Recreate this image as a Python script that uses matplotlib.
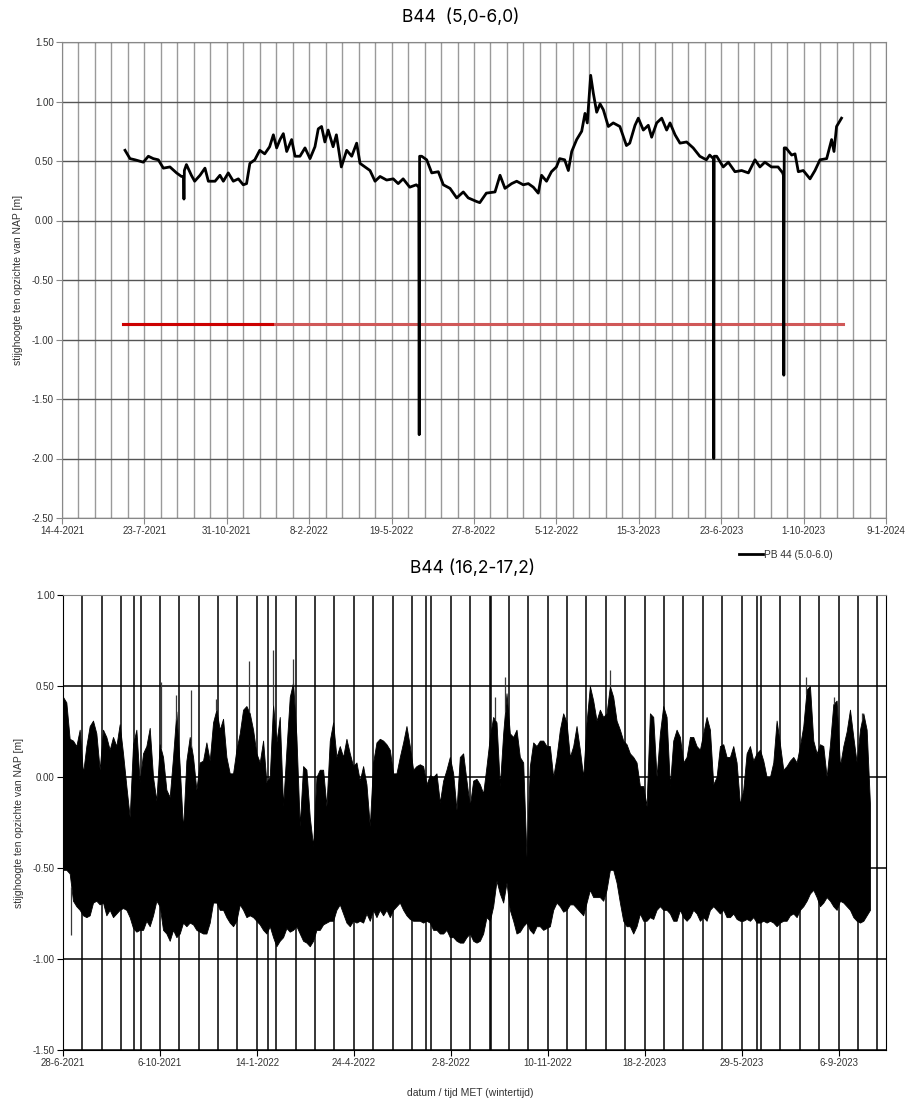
import numpy as np
import pandas as pd
import matplotlib
matplotlib.use('Agg')
import matplotlib.pyplot as plt
import matplotlib.dates as mdates
from matplotlib.ticker import FuncFormatter, FixedLocator, MultipleLocator

plt.rcParams['font.family'] = ['Liberation Sans', 'DejaVu Sans']

# ---- top chart: PB 44 (5.0-6.0), x = days after 14-4-2021 ----
top_start = pd.Timestamp('2021-04-14')
top_days = [76.5, 82.5, 88.6, 98.7, 104.8, 110.8, 116.9, 123, 131, 139, 145, 147.5, 148, 148.5,
            151, 157, 161, 167.5, 173.5, 177.6, 185.7, 191.7, 195.8, 201.8, 207.9, 214, 220, 224,
            228, 234, 240, 246, 252, 256.5, 260.5, 264.6, 268.6, 272.7, 278.7, 282.8, 288.8, 294.9,
            301, 307, 311, 315, 319, 323, 329, 333, 339, 345.5, 351.6, 357.6, 361.7, 367.7, 373.8,
            379.9, 386, 394, 402, 408, 414, 422, 430, 433, 433.5, 434, 436.5, 442.6, 448.7, 456.7,
            462.8, 470.9, 479, 487, 493, 503, 507, 515, 525.5, 531.6, 537.6, 545.7, 551.8, 559.8,
            565.9, 572, 578, 582, 588, 594, 600, 604, 610, 614.5, 618.6, 624.6, 630.7, 634.7, 637.5,
            641.6, 644.8, 648.9, 653, 657, 663, 669, 677, 685, 689, 695.4, 699.4, 705.5, 711.5,
            715.6, 721.7, 727.8, 733.8, 737.9, 744, 750, 758, 766, 774, 782, 786, 790.5, 791, 791.5,
            794.5, 802.5, 808.6, 816.7, 824.8, 833, 841, 847, 853, 861, 869, 874.6, 875.5, 876, 876.5,
            878.6, 885.5, 889.6, 893.6, 899.6, 907.8, 913.8, 919.9, 928, 934, 936.9, 940, 946]
top_vals = [0.59, 0.52, 0.51, 0.49, 0.54, 0.52, 0.51, 0.44, 0.45, 0.40, 0.37, 0.37, 0.18, 0.42,
            0.47, 0.38, 0.33, 0.38, 0.44, 0.33, 0.33, 0.38, 0.33, 0.40, 0.33, 0.35, 0.30, 0.31,
            0.48, 0.51, 0.59, 0.56, 0.62, 0.72, 0.61, 0.68, 0.73, 0.58, 0.68, 0.54, 0.54, 0.61,
            0.52, 0.62, 0.77, 0.79, 0.66, 0.76, 0.62, 0.72, 0.45, 0.59, 0.54, 0.65, 0.48, 0.45, 0.42,
            0.33, 0.37, 0.34, 0.35, 0.31, 0.35, 0.28, 0.30, 0.28, -1.80, 0.54, 0.54, 0.51, 0.40, 0.41,
            0.30, 0.27, 0.19, 0.24, 0.19, 0.16, 0.15, 0.23, 0.24, 0.38, 0.27, 0.31, 0.33, 0.30,
            0.31, 0.28, 0.23, 0.38, 0.33, 0.41, 0.45, 0.52, 0.51, 0.42, 0.58, 0.68, 0.75, 0.90, 0.82,
            1.22, 1.07, 0.91, 0.98, 0.93, 0.79, 0.82, 0.79, 0.63, 0.65, 0.80, 0.86, 0.76, 0.80,
            0.70, 0.82, 0.86, 0.76, 0.82, 0.72, 0.65, 0.66, 0.61, 0.54, 0.51, 0.55, 0.52, -2.00, 0.54,
            0.54, 0.45, 0.49, 0.41, 0.42, 0.40, 0.51, 0.45, 0.49, 0.45, 0.45, 0.40, 0.38, -1.30, 0.61,
            0.61, 0.55, 0.56, 0.41, 0.42, 0.35, 0.42, 0.51, 0.52, 0.68, 0.58, 0.79, 0.86]
ref_days = [74, 948]
ref_dark_days = [74, 255]
ref_level = -0.87

# ---- bottom chart: B44 (16,2-17,2), x = days after 28-6-2021 ----
bot_start = pd.Timestamp('2021-06-28')
env_step = 3.44  # days between envelope readings
env_upper = [
    0.44, 0.41, 0.21, 0.20, 0.17, 0.26, 0.02, 0.17, 0.28, 0.31, 0.24, 0.04, 0.26, 0.22, 0.15, 0.22,
    0.17, 0.29, 0.13, -0.05, -0.22, 0.18, 0.26, -0.03, 0.13, 0.17, 0.27, 0.00, -0.13, 0.18, 0.11,
    -0.07, -0.11, 0.11, 0.36, 0.06, -0.29, 0.09, 0.22, 0.11, -0.07, 0.08, 0.09, 0.19, 0.09, 0.30,
    0.37, 0.26, 0.32, 0.11, 0.02, 0.02, 0.15, 0.24, 0.37, 0.39, 0.35, 0.26, 0.13, 0.08, 0.20, -0.03,
    0.00, 0.40, 0.19, 0.33, -0.16, 0.15, 0.44, 0.52, 0.22, -0.27, 0.06, 0.04, -0.22, -0.38, 0.00,
    0.04, 0.04, -0.16, 0.20, 0.30, 0.11, 0.17, 0.11, 0.21, 0.13, 0.06, 0.08, -0.02, 0.06, -0.04,
    -0.27, 0.08, 0.19, 0.21, 0.20, 0.18, 0.15, 0.02, 0.02, 0.11, 0.19, 0.28, 0.17, 0.04, 0.06, 0.07,
    0.06, -0.04, 0.01, 0.00, 0.02, -0.14, -0.02, 0.04, 0.11, 0.02, -0.18, 0.11, 0.13, -0.02, -0.16,
    -0.02, -0.01,
    -0.04, -0.09, 0.06, 0.22, 0.33, 0.30, -0.05, 0.24, 0.46, 0.24, 0.22, 0.26, 0.11, 0.08, -0.44,
    0.06, 0.19, 0.17, 0.20, 0.20, 0.17, 0.17, 0.00, 0.11, 0.26, 0.35, 0.30, 0.11, 0.17, 0.28, 0.15,
    0.00, 0.30, 0.50, 0.42, 0.31, 0.37, 0.33, 0.35, 0.50, 0.44, 0.31, 0.26, 0.20, 0.18, 0.13, 0.11,
    0.08, -0.05, -0.05, -0.16, 0.35, 0.33, 0.00, 0.24, 0.39, 0.33, -0.05, 0.20, 0.26, 0.22, 0.08,
    0.11, 0.22, 0.22, 0.17, 0.15, 0.24, 0.33, 0.26, -0.04, 0.00, 0.17, 0.18, 0.11, 0.11, 0.17, 0.08,
    -0.15, -0.07, 0.13, 0.17, 0.09, 0.13, 0.15, 0.09, 0.00, 0.00, 0.08, 0.31, 0.18, 0.04, 0.06, 0.09,
    0.11, 0.08, 0.17, 0.28, 0.48, 0.50, 0.20, 0.13, 0.18, 0.17, 0.00, 0.18, 0.40, 0.42, 0.06, 0.17,
    0.25, 0.37, 0.22, 0.08, 0.26, 0.35, 0.26, -0.15]
env_lower = [
    -0.51, -0.51, -0.53, -0.68, -0.71, -0.73, -0.76, -0.77, -0.76, -0.69, -0.68, -0.70, -0.69, -0.76,
    -0.73, -0.77, -0.75, -0.73, -0.72, -0.73, -0.77, -0.83, -0.85, -0.84, -0.84, -0.79, -0.82, -0.76,
    -0.68, -0.71, -0.84, -0.86, -0.90, -0.84, -0.88, -0.86, -0.80, -0.82, -0.80, -0.81, -0.84, -0.85,
    -0.86, -0.86, -0.80, -0.69, -0.69, -0.73, -0.73, -0.77, -0.80, -0.82, -0.79, -0.70, -0.73, -0.77,
    -0.76, -0.77, -0.79, -0.81, -0.84, -0.86, -0.82, -0.88, -0.93, -0.90, -0.88, -0.83, -0.85, -0.84,
    -0.82, -0.86, -0.90, -0.91, -0.93, -0.90, -0.84, -0.84, -0.81, -0.80, -0.79, -0.79, -0.73, -0.70,
    -0.75, -0.80, -0.82, -0.79, -0.80, -0.79, -0.80, -0.75, -0.79, -0.73, -0.77, -0.73, -0.76, -0.73,
    -0.77, -0.73, -0.71, -0.69, -0.73, -0.76, -0.78, -0.79, -0.79, -0.79, -0.80, -0.79, -0.80, -0.84,
    -0.84, -0.86, -0.86, -0.84, -0.88, -0.88, -0.90, -0.91, -0.91, -0.88, -0.86, -0.90, -0.91,
    -0.90, -0.86, -0.77, -0.79, -0.71, -0.57, -0.64, -0.69, -0.58, -0.73, -0.79, -0.86, -0.85, -0.82,
    -0.80, -0.84, -0.86, -0.82, -0.82, -0.84, -0.83, -0.82, -0.73, -0.69, -0.71, -0.74, -0.73, -0.70,
    -0.70, -0.72, -0.74, -0.76, -0.69, -0.62, -0.66, -0.66, -0.66, -0.68, -0.62, -0.51, -0.51, -0.58,
    -0.69, -0.79, -0.82, -0.82, -0.86, -0.82, -0.75, -0.79, -0.79, -0.77, -0.78, -0.73, -0.71, -0.73,
    -0.73, -0.75, -0.79, -0.79, -0.73, -0.77, -0.79, -0.77, -0.73, -0.75, -0.79, -0.77, -0.79, -0.73,
    -0.71, -0.73, -0.75, -0.73, -0.77, -0.77, -0.75, -0.78, -0.79, -0.79, -0.78, -0.79, -0.77, -0.80,
    -0.80, -0.79, -0.80, -0.79, -0.80, -0.82, -0.80, -0.79, -0.79, -0.76, -0.75, -0.77, -0.73, -0.71,
    -0.68, -0.64, -0.62, -0.66, -0.71, -0.69, -0.66, -0.68, -0.71, -0.73, -0.68, -0.69, -0.71, -0.73,
    -0.77, -0.79, -0.80, -0.79, -0.76, -0.73]
peak_days = [100.9, 116.3, 132.5, 158.3, 192.0, 216.8, 237.5, 445.6, 455.9, 564.3, 766.7, 794.9, 824.1]
peak_vals = [0.52, 0.45, 0.48, 0.43, 0.64, 0.70, 0.65, 0.44, 0.55, 0.59, 0.55, 0.44, 0.35]
dip_days = [8.6]
dip_vals = [-0.87]
glitch_days = [73, 211, 374, 442, 716]


def dmy(x, pos=None):
    d = mdates.num2date(x)
    return f"{d.day}-{d.month}-{d.year}"


def to_dates(start, days):
    return (start + pd.to_timedelta(np.asarray(days, dtype=float), unit='D')).to_pydatetime()


fig = plt.figure(figsize=(9.06, 11.03), dpi=100)
tick_col = '#333333'

# ---------- top ----------
ax1 = fig.add_axes([62 / 906, 1 - 518 / 1103, 824 / 906, 476 / 1103])
t0, t1 = pd.Timestamp('2021-04-14'), pd.Timestamp('2024-01-09')
ax1.set_xlim(t0, t1)
ax1.set_ylim(-2.5, 1.5)
ax1.xaxis.set_major_locator(FixedLocator(mdates.date2num(pd.date_range(t0, t1, freq='100D').to_pydatetime())))
ax1.xaxis.set_minor_locator(FixedLocator(mdates.date2num(pd.date_range(t0, t1, freq='20D').to_pydatetime())))
ax1.xaxis.set_major_formatter(FuncFormatter(dmy))
ax1.yaxis.set_major_locator(MultipleLocator(0.5))
ax1.yaxis.set_major_formatter(FuncFormatter(lambda v, p: f"{v:.2f}"))
ax1.grid(True, which='both', axis='x', color='#9a9a9a', lw=1.0)
ax1.grid(True, which='major', axis='y', color='#555555', lw=1.0)
ax1.set_axisbelow(True)
ax1.tick_params(which='major', length=4, width=0.8, color='#888888', labelsize=7, labelcolor=tick_col, pad=2)
ax1.tick_params(which='minor', length=0)
for s in ax1.spines.values():
    s.set_color('#888888')

ax1.plot(to_dates(top_start, ref_days), [ref_level] * 2, color='#d05858', lw=2.2)
ax1.plot(to_dates(top_start, ref_dark_days), [ref_level] * 2, color='#cc0000', lw=2.2)
ax1.plot(to_dates(top_start, top_days), top_vals, color='black', lw=2.0, label='PB 44 (5.0-6.0)')
ax1.set_ylabel('stijghoogte ten opzichte van NAP [m]', fontsize=7.5, color=tick_col, labelpad=6)
fig.text(0.508, 1 - 17 / 1103, 'B44  (5,0-6,0)', ha='center', va='center', fontsize=12.5, family='Inter')
fig.legend(handles=ax1.get_lines()[2:], loc='center left', bbox_to_anchor=(730 / 906, 1 - 555 / 1103),
           frameon=False, fontsize=7.3, handlelength=2.4, handletextpad=0.1, labelcolor=tick_col)

# ---------- bottom ----------
ax2 = fig.add_axes([63 / 906, 1 - 1050 / 1103, 823 / 906, 455 / 1103])
b0 = pd.Timestamp('2021-06-28')
b1 = b0 + pd.Timedelta(days=849)
ax2.set_xlim(b0, b1)
ax2.set_ylim(-1.5, 1.0)
ax2.xaxis.set_major_locator(FixedLocator(mdates.date2num(pd.date_range(b0, b1, freq='100D').to_pydatetime())))
ax2.xaxis.set_minor_locator(FixedLocator(mdates.date2num(pd.date_range(b0, b1, freq='20D').to_pydatetime())))
ax2.xaxis.set_major_formatter(FuncFormatter(dmy))
ax2.yaxis.set_major_locator(MultipleLocator(0.5))
ax2.yaxis.set_major_formatter(FuncFormatter(lambda v, p: f"{v:.2f}"))
ax2.grid(True, which='both', axis='x', color='black', lw=1.1)
ax2.grid(True, which='major', axis='y', color='black', lw=1.1)
ax2.set_axisbelow(True)
ax2.tick_params(which='major', length=4, width=0.8, labelsize=7, labelcolor=tick_col, pad=2)
ax2.tick_params(which='minor', length=0)
ax2.spines['top'].set_color('#888888')

env_days = np.arange(len(env_upper)) * env_step
env_dates = to_dates(bot_start, env_days)
ax2.fill_between(env_dates, env_lower, env_upper, color='black', lw=0.6, edgecolor='black')
# narrow peaks rising above / dropping below the envelope
ax2.vlines(to_dates(bot_start, peak_days), np.interp(peak_days, env_days, env_upper), peak_vals,
           color='#3a3a3a', lw=0.9)
ax2.vlines(to_dates(bot_start, dip_days), np.interp(dip_days, env_days, env_lower), dip_vals,
           color='#3a3a3a', lw=0.9)
ax2.vlines(to_dates(bot_start, glitch_days), -1.5, 1.0, color='black', lw=1.1)
ax2.set_ylabel('stijghoogte ten opzichte van NAP [m]', fontsize=7.5, color=tick_col, labelpad=6)
fig.text(0.519, 1 - 1093 / 1103, 'datum / tijd MET (wintertijd)', ha='center', va='center',
         fontsize=7.5, color=tick_col)
fig.text(0.521, 1 - 568 / 1103, 'B44 (16,2-17,2)', ha='center', va='center', fontsize=12.5, family='Inter')

fig.savefig('out.png', dpi=100)
